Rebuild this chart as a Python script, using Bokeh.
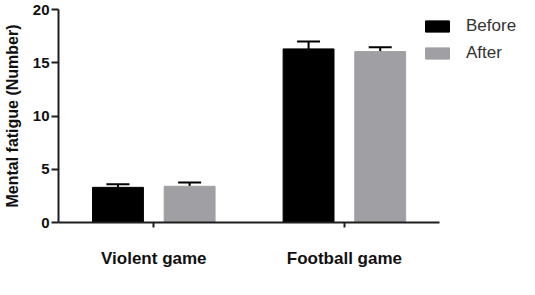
from bokeh.plotting import figure
from bokeh.models import ColumnDataSource, Range1d, Whisker, Legend, LegendItem, FixedTicker
from bokeh.transform import dodge
from bokeh.embed import file_html
from bokeh.resources import INLINE

categories = ["Violent game", "Football game"]
before_mean = [3.3, 16.3]
before_err = [0.3, 0.7]
after_mean = [3.4, 16.05]
after_err = [0.35, 0.4]
y_ticks = [0, 5, 10, 15, 20]

BLACK = "#000000"
GRAY = "#a0a0a4"
AXIS = "#1e1e1e"
FONT = "Liberation Sans"

xpos = list(range(len(categories)))
src_b = ColumnDataSource(dict(x=xpos, val=before_mean,
                              top=[m + e for m, e in zip(before_mean, before_err)]))
src_a = ColumnDataSource(dict(x=xpos, val=after_mean,
                              top=[m + e for m, e in zip(after_mean, after_err)]))

W, H = 530, 279
LEFT, TOP, BOTTOM = 57, 9, 57
frame_w = W - LEFT
px_per_unit = 191.0
x_start = -0.5
x_end = x_start + frame_w / px_per_unit

p = figure(width=W, height=H, output_backend="svg", toolbar_location=None,
           x_range=Range1d(x_start, x_end), y_range=Range1d(0, 20),
           min_border_left=LEFT, min_border_right=0, min_border_top=TOP, min_border_bottom=BOTTOM)
p.outline_line_color = None
p.grid.visible = False

off = 0.188
w = 0.267
rb = p.vbar(x=dodge("x", -off), top="val", width=w, source=src_b,
            fill_color=BLACK, line_color=BLACK)
ra = p.vbar(x=dodge("x", off), top="val", width=w, source=src_a,
            fill_color=GRAY, line_color=GRAY)

for src, o in ((src_b, -off), (src_a, off)):
    wk = Whisker(source=src, base=dodge("x", o), lower="val", upper="top",
                 line_color=BLACK, line_width=2, lower_head=None)
    wk.upper_head.size = 23
    wk.upper_head.line_width = 2
    wk.upper_head.line_color = BLACK
    p.add_layout(wk)

# y axis
ya = p.yaxis[0]
ya.ticker = FixedTicker(ticks=y_ticks)
ya.minor_tick_line_color = None
ya.major_tick_out = 7
ya.major_tick_in = 0
ya.axis_line_width = 2
ya.axis_line_color = AXIS
ya.major_tick_line_width = 2
ya.major_tick_line_color = AXIS
ya.major_label_text_font = FONT
ya.major_label_text_font_style = "bold"
ya.major_label_text_font_size = "15px"
ya.major_label_text_color = "#111111"
ya.major_label_standoff = 2
ya.axis_label = "Mental fatigue (Number)"
ya.axis_label_text_font = FONT
ya.axis_label_text_font_style = "bold"
ya.axis_label_text_font_size = "16px"
ya.axis_label_text_color = "#111111"
ya.axis_label_standoff = 9

# x axis
xa = p.xaxis[0]
xa.ticker = FixedTicker(ticks=xpos)
xa.major_label_overrides = {i: c for i, c in zip(xpos, categories)}
xa.minor_tick_line_color = None
xa.bounds = (x_start, x_start + 2.0)
xa.axis_line_width = 2
xa.axis_line_color = AXIS
xa.major_tick_out = 5
xa.major_tick_in = 0
xa.major_tick_line_width = 2
xa.major_tick_line_color = AXIS
xa.major_label_text_font = FONT
xa.major_label_text_font_style = "bold"
xa.major_label_text_font_size = "17px"
xa.major_label_text_color = "#111111"
xa.major_label_standoff = 21

legend = Legend(items=[LegendItem(label="Before", renderers=[rb]),
                       LegendItem(label="After", renderers=[ra])],
                location=(364, 159), orientation="vertical",
                glyph_width=30, glyph_height=14, label_height=14, label_standoff=14,
                spacing=7, padding=0, margin=0,
                label_text_font=FONT, label_text_font_size="17px", label_text_color="#333333",
                border_line_color=None, background_fill_alpha=0)
p.add_layout(legend)

open("out.html", "w").write(file_html(p, INLINE))
